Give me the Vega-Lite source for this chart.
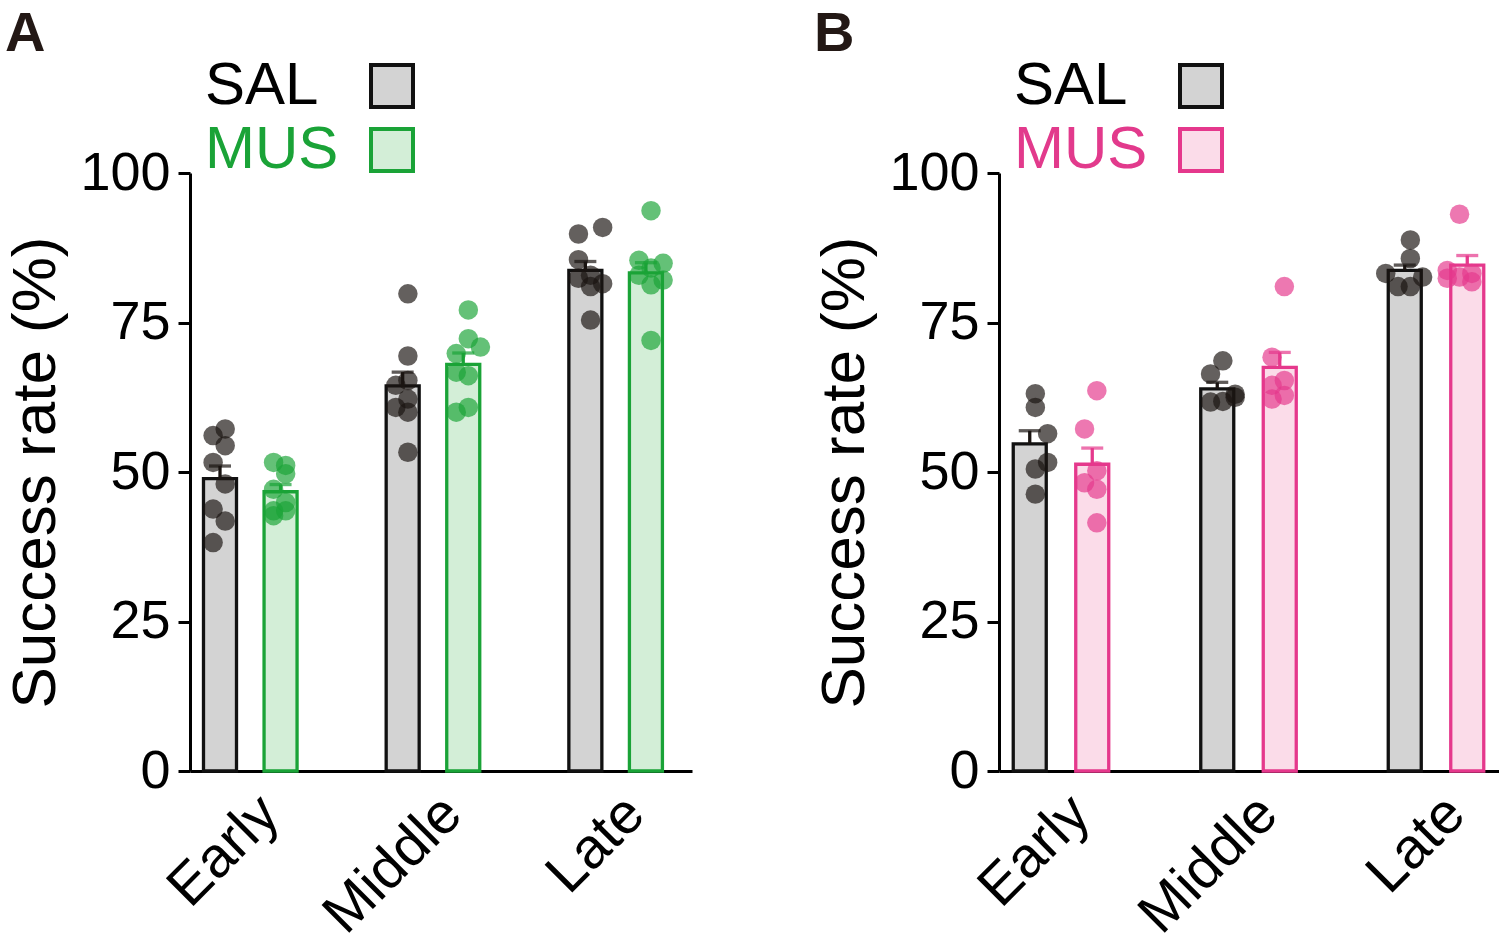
{
  "$schema": "https://vega.github.io/schema/vega-lite/v6.json",
  "padding": {"left": 4, "top": 6, "right": 0, "bottom": 0},
  "spacing": 121,
  "config": {
    "font": "Liberation Sans",
    "view": {"stroke": null},
    "axis": {
      "grid": false,
      "domainColor": "black",
      "domainWidth": 3,
      "tickColor": "black",
      "tickWidth": 3,
      "labelColor": "black",
      "titleColor": "black",
      "labelFont": "Liberation Sans",
      "titleFont": "Liberation Sans"
    },
    "legend": {"labelFont": "Liberation Sans"}
  },
  "datasets": {
    "barsA": [
      {"phase": "Early", "group": "SAL", "mean": 48.9, "upper": 51.0},
      {"phase": "Early", "group": "MUS", "mean": 46.7, "upper": 47.9},
      {"phase": "Middle", "group": "SAL", "mean": 64.4, "upper": 66.7},
      {"phase": "Middle", "group": "MUS", "mean": 68.0, "upper": 69.9},
      {"phase": "Late", "group": "SAL", "mean": 83.7, "upper": 85.2},
      {"phase": "Late", "group": "MUS", "mean": 83.3, "upper": 85.0}
    ],
    "ptsA": [
      {"phase": "Early", "group": "SAL", "value": 56.1, "slot": "L"},
      {"phase": "Early", "group": "SAL", "value": 57.2, "slot": "C"},
      {"phase": "Early", "group": "SAL", "value": 54.4, "slot": "C"},
      {"phase": "Early", "group": "SAL", "value": 51.6, "slot": "L"},
      {"phase": "Early", "group": "SAL", "value": 48.0, "slot": "C"},
      {"phase": "Early", "group": "SAL", "value": 43.8, "slot": "L"},
      {"phase": "Early", "group": "SAL", "value": 41.8, "slot": "C"},
      {"phase": "Early", "group": "SAL", "value": 38.2, "slot": "L"},
      {"phase": "Early", "group": "MUS", "value": 51.6, "slot": "L"},
      {"phase": "Early", "group": "MUS", "value": 51.1, "slot": "C"},
      {"phase": "Early", "group": "MUS", "value": 49.7, "slot": "C"},
      {"phase": "Early", "group": "MUS", "value": 47.1, "slot": "L"},
      {"phase": "Early", "group": "MUS", "value": 44.9, "slot": "C"},
      {"phase": "Early", "group": "MUS", "value": 43.5, "slot": "L"},
      {"phase": "Early", "group": "MUS", "value": 43.5, "slot": "C"},
      {"phase": "Early", "group": "MUS", "value": 42.7, "slot": "L"},
      {"phase": "Middle", "group": "SAL", "value": 79.8, "slot": "C"},
      {"phase": "Middle", "group": "SAL", "value": 69.4, "slot": "C"},
      {"phase": "Middle", "group": "SAL", "value": 65.3, "slot": "C"},
      {"phase": "Middle", "group": "SAL", "value": 64.5, "slot": "L"},
      {"phase": "Middle", "group": "SAL", "value": 62.2, "slot": "C"},
      {"phase": "Middle", "group": "SAL", "value": 60.8, "slot": "L"},
      {"phase": "Middle", "group": "SAL", "value": 60.0, "slot": "C"},
      {"phase": "Middle", "group": "SAL", "value": 53.3, "slot": "C"},
      {"phase": "Middle", "group": "MUS", "value": 77.1, "slot": "C"},
      {"phase": "Middle", "group": "MUS", "value": 72.3, "slot": "C"},
      {"phase": "Middle", "group": "MUS", "value": 70.9, "slot": "R"},
      {"phase": "Middle", "group": "MUS", "value": 69.8, "slot": "L"},
      {"phase": "Middle", "group": "MUS", "value": 66.7, "slot": "L"},
      {"phase": "Middle", "group": "MUS", "value": 66.1, "slot": "C"},
      {"phase": "Middle", "group": "MUS", "value": 60.8, "slot": "C"},
      {"phase": "Middle", "group": "MUS", "value": 60.0, "slot": "L"},
      {"phase": "Late", "group": "SAL", "value": 89.8, "slot": "L"},
      {"phase": "Late", "group": "SAL", "value": 90.9, "slot": "R"},
      {"phase": "Late", "group": "SAL", "value": 85.5, "slot": "L"},
      {"phase": "Late", "group": "SAL", "value": 82.9, "slot": "C"},
      {"phase": "Late", "group": "SAL", "value": 81.5, "slot": "R"},
      {"phase": "Late", "group": "SAL", "value": 81.0, "slot": "C"},
      {"phase": "Late", "group": "SAL", "value": 82.4, "slot": "L"},
      {"phase": "Late", "group": "SAL", "value": 75.4, "slot": "C"},
      {"phase": "Late", "group": "MUS", "value": 93.7, "slot": "C"},
      {"phase": "Late", "group": "MUS", "value": 85.4, "slot": "L"},
      {"phase": "Late", "group": "MUS", "value": 84.9, "slot": "R"},
      {"phase": "Late", "group": "MUS", "value": 84.1, "slot": "C"},
      {"phase": "Late", "group": "MUS", "value": 82.1, "slot": "R"},
      {"phase": "Late", "group": "MUS", "value": 82.9, "slot": "L"},
      {"phase": "Late", "group": "MUS", "value": 81.3, "slot": "C"},
      {"phase": "Late", "group": "MUS", "value": 72.0, "slot": "C"}
    ],
    "barsB": [
      {"phase": "Early", "group": "SAL", "mean": 54.7, "upper": 56.9},
      {"phase": "Early", "group": "MUS", "mean": 51.3, "upper": 54.0},
      {"phase": "Middle", "group": "SAL", "mean": 63.9, "upper": 65.0},
      {"phase": "Middle", "group": "MUS", "mean": 67.5, "upper": 70.0},
      {"phase": "Late", "group": "SAL", "mean": 83.7, "upper": 84.6},
      {"phase": "Late", "group": "MUS", "mean": 84.6, "upper": 86.2}
    ],
    "ptsB": [
      {"phase": "Early", "group": "SAL", "value": 63.1, "slot": "C"},
      {"phase": "Early", "group": "SAL", "value": 60.8, "slot": "C"},
      {"phase": "Early", "group": "SAL", "value": 56.4, "slot": "R"},
      {"phase": "Early", "group": "SAL", "value": 51.6, "slot": "R"},
      {"phase": "Early", "group": "SAL", "value": 50.5, "slot": "C"},
      {"phase": "Early", "group": "SAL", "value": 46.3, "slot": "C"},
      {"phase": "Early", "group": "MUS", "value": 63.6, "slot": "C"},
      {"phase": "Early", "group": "MUS", "value": 57.2, "slot": "L"},
      {"phase": "Early", "group": "MUS", "value": 50.2, "slot": "C"},
      {"phase": "Early", "group": "MUS", "value": 48.2, "slot": "L"},
      {"phase": "Early", "group": "MUS", "value": 47.1, "slot": "C"},
      {"phase": "Early", "group": "MUS", "value": 41.5, "slot": "C"},
      {"phase": "Middle", "group": "SAL", "value": 68.6, "slot": "C"},
      {"phase": "Middle", "group": "SAL", "value": 66.4, "slot": "L"},
      {"phase": "Middle", "group": "SAL", "value": 63.0, "slot": "R"},
      {"phase": "Middle", "group": "SAL", "value": 61.7, "slot": "L"},
      {"phase": "Middle", "group": "SAL", "value": 61.8, "slot": "C"},
      {"phase": "Middle", "group": "SAL", "value": 62.5, "slot": "R"},
      {"phase": "Middle", "group": "MUS", "value": 81.0, "slot": "C"},
      {"phase": "Middle", "group": "MUS", "value": 69.2, "slot": "L"},
      {"phase": "Middle", "group": "MUS", "value": 65.3, "slot": "C"},
      {"phase": "Middle", "group": "MUS", "value": 64.5, "slot": "L"},
      {"phase": "Middle", "group": "MUS", "value": 62.8, "slot": "C"},
      {"phase": "Middle", "group": "MUS", "value": 62.2, "slot": "L"},
      {"phase": "Late", "group": "SAL", "value": 88.8, "slot": "C"},
      {"phase": "Late", "group": "SAL", "value": 85.7, "slot": "C"},
      {"phase": "Late", "group": "SAL", "value": 83.2, "slot": "LL"},
      {"phase": "Late", "group": "SAL", "value": 82.6, "slot": "R"},
      {"phase": "Late", "group": "SAL", "value": 81.0, "slot": "L"},
      {"phase": "Late", "group": "SAL", "value": 81.0, "slot": "C"},
      {"phase": "Late", "group": "MUS", "value": 93.1, "slot": "L"},
      {"phase": "Late", "group": "MUS", "value": 83.7, "slot": "LL"},
      {"phase": "Late", "group": "MUS", "value": 83.2, "slot": "C"},
      {"phase": "Late", "group": "MUS", "value": 82.6, "slot": "L"},
      {"phase": "Late", "group": "MUS", "value": 81.8, "slot": "C"},
      {"phase": "Late", "group": "MUS", "value": 82.4, "slot": "LL"}
    ]
  },
  "hconcat": [
    {
      "width": 502,
      "height": 598,
      "title": {"text": "A", "anchor": "start", "frame": "bounds", "fontSize": 56, "fontWeight": "bold", "color": "#231815", "offset": -7},
      "encoding": {
        "x": {
          "field": "phase",
          "type": "nominal",
          "sort": ["Early", "Middle", "Late"],
          "scale": {"paddingInner": 0.453, "paddingOuter": 0.1005, "align": 0.281},
          "axis": {"title": null, "ticks": false, "labelAngle": -45, "labelFontSize": 57, "labelPadding": 14}
        }
      },
      "layer": [
        {
          "data": {"name": "barsA"},
          "mark": {"type": "bar", "strokeWidth": 3.3},
          "encoding": {
            "xOffset": {"field": "group", "type": "nominal", "scale": {"domain": ["SAL", "MUS"], "paddingInner": 0.455, "paddingOuter": 0.0525}},
            "y": {
              "field": "mean",
              "type": "quantitative",
              "scale": {"domain": [0, 100], "nice": false},
              "axis": {"title": "Success rate (%)", "values": [0, 25, 50, 75, 100], "tickSize": 12, "labelFontSize": 54, "labelPadding": 8, "titleFontSize": 62, "titleFontWeight": "normal", "titlePadding": 12}
            },
            "fill": {
              "field": "group",
              "type": "nominal",
              "scale": {"domain": ["SAL", "MUS"], "range": ["#d3d3d3", "#d3eed7"]},
              "legend": {"title": null, "orient": "none", "legendX": 172, "legendY": -117, "symbolType": "square", "symbolSize": 1764, "symbolStrokeWidth": 4, "labelFontSize": 60, "labelOffset": -217, "labelAlign": "left", "labelLimit": 400, "labelColor": {"expr": "datum.label == 'MUS' ? '#1aa337' : 'black'"}, "rowPadding": 4, "padding": 0}
            },
            "stroke": {
              "field": "group",
              "type": "nominal",
              "scale": {"domain": ["SAL", "MUS"], "range": ["#111111", "#1aa337"]},
              "legend": {"title": null, "orient": "none", "legendX": 172, "legendY": -117, "symbolType": "square", "symbolSize": 1764, "symbolStrokeWidth": 4, "labelFontSize": 60, "labelOffset": -217, "labelAlign": "left", "labelLimit": 400, "labelColor": {"expr": "datum.label == 'MUS' ? '#1aa337' : 'black'"}, "rowPadding": 4, "padding": 0}
            }
          }
        },
        {
          "data": {"name": "barsA"},
          "mark": {"type": "rule", "strokeWidth": 3.3},
          "encoding": {
            "xOffset": {"field": "group", "type": "nominal", "scale": {"domain": ["SAL", "MUS"], "paddingInner": 0.455, "paddingOuter": 0.0525}},
            "y": {"field": "mean", "type": "quantitative"},
            "y2": {"field": "upper"},
            "color": {"field": "group", "type": "nominal", "scale": {"domain": ["SAL", "MUS"], "range": ["#1a1411", "#1aa337"]}, "legend": null}
          }
        },
        {
          "data": {"name": "barsA"},
          "mark": {"type": "tick", "thickness": 3.3, "size": 22},
          "encoding": {
            "xOffset": {"field": "group", "type": "nominal", "scale": {"domain": ["SAL", "MUS"], "paddingInner": 0.455, "paddingOuter": 0.0525}},
            "y": {"field": "upper", "type": "quantitative"},
            "color": {"field": "group", "type": "nominal", "legend": null}
          }
        },
        {
          "data": {"name": "ptsA"},
          "transform": [{"calculate": "datum.group + '-' + datum.slot", "as": "key"}],
          "mark": {"type": "circle", "size": 380, "opacity": 0.68},
          "encoding": {
            "xOffset": {"field": "key", "type": "nominal", "scale": {"type": "point", "domain": ["SAL-LL", "SAL-L", "SAL-C", "SAL-R", "gap", "MUS-LL", "MUS-L", "MUS-C", "MUS-R"], "padding": 0.132, "align": 0.22}},
            "y": {"field": "value", "type": "quantitative"},
            "color": {"field": "group", "type": "nominal", "legend": null}
          }
        }
      ],
      "resolve": {"scale": {"xOffset": "independent"}}
    },
    {
      "width": 500,
      "height": 598,
      "title": {"text": "B", "anchor": "start", "frame": "bounds", "fontSize": 56, "fontWeight": "bold", "color": "#231815", "offset": -7},
      "encoding": {
        "x": {
          "field": "phase",
          "type": "nominal",
          "sort": ["Early", "Middle", "Late"],
          "scale": {"paddingInner": 0.44, "paddingOuter": 0.0533, "align": 0.475},
          "axis": {"title": null, "ticks": false, "labelAngle": -45, "labelFontSize": 57, "labelPadding": 14}
        }
      },
      "layer": [
        {
          "data": {"name": "barsB"},
          "mark": {"type": "bar", "strokeWidth": 3.3},
          "encoding": {
            "xOffset": {"field": "group", "type": "nominal", "scale": {"domain": ["SAL", "MUS"], "paddingInner": 0.472, "paddingOuter": 0.076}},
            "y": {
              "field": "mean",
              "type": "quantitative",
              "scale": {"domain": [0, 100], "nice": false},
              "axis": {"title": "Success rate (%)", "values": [0, 25, 50, 75, 100], "tickSize": 12, "labelFontSize": 54, "labelPadding": 8, "titleFontSize": 62, "titleFontWeight": "normal", "titlePadding": 12}
            },
            "fill": {
              "field": "group",
              "type": "nominal",
              "scale": {"domain": ["SAL", "MUS"], "range": ["#d3d3d3", "#fbdce9"]},
              "legend": {"title": null, "orient": "none", "legendX": 172, "legendY": -117, "symbolType": "square", "symbolSize": 1764, "symbolStrokeWidth": 4, "labelFontSize": 60, "labelOffset": -217, "labelAlign": "left", "labelLimit": 400, "labelColor": {"expr": "datum.label == 'MUS' ? '#e23a8c' : 'black'"}, "rowPadding": 4, "padding": 0}
            },
            "stroke": {
              "field": "group",
              "type": "nominal",
              "scale": {"domain": ["SAL", "MUS"], "range": ["#111111", "#e5388c"]},
              "legend": {"title": null, "orient": "none", "legendX": 172, "legendY": -117, "symbolType": "square", "symbolSize": 1764, "symbolStrokeWidth": 4, "labelFontSize": 60, "labelOffset": -217, "labelAlign": "left", "labelLimit": 400, "labelColor": {"expr": "datum.label == 'MUS' ? '#e23a8c' : 'black'"}, "rowPadding": 4, "padding": 0}
            }
          }
        },
        {
          "data": {"name": "barsB"},
          "mark": {"type": "rule", "strokeWidth": 3.3},
          "encoding": {
            "xOffset": {"field": "group", "type": "nominal", "scale": {"domain": ["SAL", "MUS"], "paddingInner": 0.472, "paddingOuter": 0.076}},
            "y": {"field": "mean", "type": "quantitative"},
            "y2": {"field": "upper"},
            "color": {"field": "group", "type": "nominal", "scale": {"domain": ["SAL", "MUS"], "range": ["#1a1411", "#e5388c"]}, "legend": null}
          }
        },
        {
          "data": {"name": "barsB"},
          "mark": {"type": "tick", "thickness": 3.3, "size": 22},
          "encoding": {
            "xOffset": {"field": "group", "type": "nominal", "scale": {"domain": ["SAL", "MUS"], "paddingInner": 0.472, "paddingOuter": 0.076}},
            "y": {"field": "upper", "type": "quantitative"},
            "color": {"field": "group", "type": "nominal", "legend": null}
          }
        },
        {
          "data": {"name": "ptsB"},
          "transform": [{"calculate": "datum.group + '-' + datum.slot", "as": "key"}],
          "mark": {"type": "circle", "size": 380, "opacity": 0.68},
          "encoding": {
            "xOffset": {"field": "key", "type": "nominal", "scale": {"type": "point", "domain": ["SAL-LL", "SAL-L", "SAL-C", "SAL-R", "gap", "MUS-LL", "MUS-L", "MUS-C", "MUS-R"], "padding": 0.268, "align": 0.34}},
            "y": {"field": "value", "type": "quantitative"},
            "color": {"field": "group", "type": "nominal", "legend": null}
          }
        }
      ],
      "resolve": {"scale": {"xOffset": "independent"}}
    }
  ],
  "resolve": {
    "scale": {"x": "independent", "y": "independent", "xOffset": "independent", "color": "independent", "fill": "independent", "stroke": "independent"},
    "legend": {"fill": "independent", "stroke": "independent"}
  }
}
